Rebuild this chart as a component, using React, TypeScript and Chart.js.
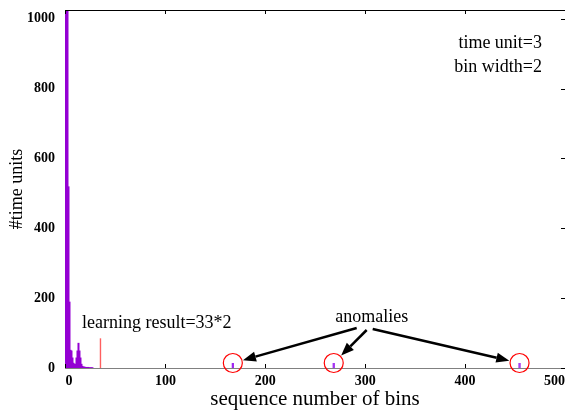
import React, { useEffect, useRef } from "react";
import { Chart, registerables } from "chart.js";

Chart.register(...registerables);

// ---- data ----
const headBins = [0, 1, 2, 3, 4, 5, 6, 7, 8, 9, 10, 11, 12, 13, 14, 15, 16, 17, 18, 19, 20, 21, 22, 23, 24, 25, 26, 27];
const headCounts = [1100, 1100, 1100, 520, 190, 52, 50, 30, 15, 12, 12, 30, 50, 72, 50, 30, 12, 6, 4, 4, 3, 3, 3, 3, 2, 2, 2, 2];
const anomalyBins = [167, 168, 268, 269, 454, 455];
const anomalyCounts = [14, 14, 14, 14, 14, 14];
const anomalyCenters = [167.5, 268.5, 454.5];
const learningBin = [35];
const learningCount = [85];
const xTicks = [0, 100, 200, 300, 400, 500];
const yTicks = [0, 200, 400, 600, 800, 1000];
const xRange = [-0.5, 500];
const yRange = [0, 1025];
const noteLines = ["time unit=3", "bin width=2"];
const noteAnchor = { x: 477, y: [931, 860] };
const learningLabel = "learning result=33*2";
const learningAnchor = { x: 16.5, y: 129 };
const anomalyLabel = "anomalies";
const anomalyAnchor = { x: 306.5, y: 146 };

const SERIF = '"Liberation Serif", "Times New Roman", serif';

const overlay = {
  id: "overlay",
  afterDatasetsDraw(chart: any) {
    const { ctx, chartArea: a, scales } = chart;
    const x = scales.x;
    const y = scales.y;
    ctx.save();
    // top border
    ctx.strokeStyle = "#000";
    ctx.lineWidth = 1;
    ctx.beginPath();
    ctx.moveTo(a.left, a.top + 0.5);
    ctx.lineTo(a.right, a.top + 0.5);
    ctx.stroke();
    // inward tick marks
    ctx.beginPath();
    xTicks.forEach((v) => {
      const px = Math.round(x.getPixelForValue(v)) + 0.5;
      ctx.moveTo(px, a.bottom);
      ctx.lineTo(px, a.bottom - 4);
      ctx.moveTo(px, a.top);
      ctx.lineTo(px, a.top + 4);
    });
    yTicks.forEach((v) => {
      const py = Math.round(y.getPixelForValue(v)) + 0.5;
      ctx.moveTo(a.right, py);
      ctx.lineTo(a.right - 4, py);
    });
    ctx.stroke();

    // text notes
    ctx.fillStyle = "#000";
    ctx.font = `18px ${SERIF}`;
    ctx.textBaseline = "middle";
    ctx.textAlign = "right";
    noteLines.forEach((t, i) => {
      ctx.fillText(t, x.getPixelForValue(noteAnchor.x), y.getPixelForValue(noteAnchor.y[i]));
    });
    ctx.textAlign = "left";
    ctx.fillText(learningLabel, x.getPixelForValue(learningAnchor.x), y.getPixelForValue(learningAnchor.y));
    ctx.textAlign = "center";
    const ax = x.getPixelForValue(anomalyAnchor.x);
    const ay = y.getPixelForValue(anomalyAnchor.y);
    ctx.fillText(anomalyLabel, ax, ay);

    // circles + arrows
    const y0 = y.getPixelForValue(0);
    const sources = [
      [ax - 15, ay + 11],
      [ax - 5, ay + 13],
      [ax + 1, ay + 12],
    ];
    const r = 9.5;
    anomalyCenters.forEach((c, i) => {
      const cx = x.getPixelForValue(c);
      const cy = y0 - 5;
      ctx.strokeStyle = "#ff0000";
      ctx.lineWidth = 1.2;
      ctx.beginPath();
      ctx.arc(cx, cy, r, 0, Math.PI * 2);
      ctx.stroke();

      const [sx, sy] = sources[i];
      const dx = sx - cx;
      const dy = sy - cy;
      const len = Math.hypot(dx, dy);
      const ux = dx / len;
      const uy = dy / len;
      const tx = cx + ux * (r + 1);
      const ty = cy + uy * (r + 1);
      const head = 13;
      const hw = 5;
      const bx = tx + ux * head;
      const by = ty + uy * head;
      ctx.strokeStyle = "#000";
      ctx.lineWidth = 2.5;
      ctx.beginPath();
      ctx.moveTo(sx, sy);
      ctx.lineTo(bx, by);
      ctx.stroke();
      ctx.fillStyle = "#000";
      ctx.beginPath();
      ctx.moveTo(tx, ty);
      ctx.lineTo(bx - uy * hw, by + ux * hw);
      ctx.lineTo(bx + uy * hw, by - ux * hw);
      ctx.closePath();
      ctx.fill();
    });
    ctx.restore();
  },
};

export default function App() {
  const ref = useRef<HTMLCanvasElement | null>(null);
  useEffect(() => {
    document.body.style.margin = "0";
    if (!ref.current) return;
    const chart = new Chart(ref.current, {
      type: "bar",
      data: {
        datasets: [
          {
            data: headBins.map((b, i) => ({ x: b, y: headCounts[i] })),
            backgroundColor: "#9400d3",
            borderWidth: 0,
            grouped: false,
            categoryPercentage: 1,
            barPercentage: 2,
          } as any,
          {
            data: anomalyBins.map((b, i) => ({ x: b, y: anomalyCounts[i] })),
            backgroundColor: "#9a1cf0",
            borderWidth: 0,
            grouped: false,
            categoryPercentage: 1,
            barPercentage: 1.2,
          } as any,
          {
            data: learningBin.map((b, i) => ({ x: b, y: learningCount[i] })),
            backgroundColor: "rgb(255,95,95)",
            borderWidth: 0,
            grouped: false,
            categoryPercentage: 1,
            barPercentage: 1.4,
          } as any,
        ],
      },
      options: {
        animation: false,
        responsive: true,
        maintainAspectRatio: false,
        layout: { padding: { top: 10, left: 0, right: 0, bottom: 0 } },
        plugins: { legend: { display: false }, tooltip: { enabled: false } },
        scales: {
          x: {
            type: "linear",
            min: xRange[0],
            max: xRange[1],
            offset: false,
            grid: { display: false, drawTicks: false },
            border: { display: true, color: "#808080", width: 1 },
            afterBuildTicks: (s: any) => {
              s.ticks = xTicks.map((v) => ({ value: v }));
            },
            afterFit: (s: any) => {
              s.height = 46;
              s.paddingLeft = 0;
              s.paddingRight = 0;
            },
            ticks: {
              align: "inner",
              padding: 5,
              color: "#000",
              maxRotation: 0,
              callback: (v: any) => String(v),
              font: { family: SERIF, size: 14, weight: "bold" },
            },
            title: {
              display: true,
              text: "sequence number of bins",
              color: "#000",
              font: { family: SERIF, size: 21 },
              padding: { top: 0, bottom: 2 },
            },
          },
          y: {
            type: "linear",
            min: yRange[0],
            max: yRange[1],
            grid: { display: false, drawTicks: false },
            border: { display: true, color: "#808080", width: 1 },
            afterBuildTicks: (s: any) => {
              s.ticks = yTicks.map((v) => ({ value: v }));
            },
            afterFit: (s: any) => {
              s.width = 65;
              s.paddingTop = 0;
              s.paddingBottom = 0;
            },
            ticks: {
              padding: 10,
              color: "#000",
              callback: (v: any) => String(v),
              font: { family: SERIF, size: 14, weight: "bold" },
            },
            title: {
              display: true,
              text: "#time units",
              color: "#000",
              font: { family: SERIF, size: 18 },
              padding: { top: 6, bottom: 0 },
            },
          },
        },
      } as any,
      plugins: [overlay],
    });
    return () => chart.destroy();
  }, []);
  return (
    <div style={{ width: 565, height: 414, position: "relative" }}>
      <canvas ref={ref} />
    </div>
  );
}
